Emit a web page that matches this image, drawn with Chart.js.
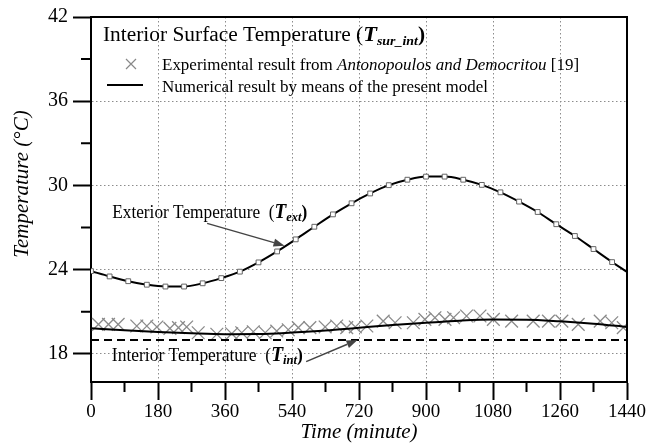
<!DOCTYPE html>
<html><head><meta charset="utf-8">
<style>html,body{margin:0;padding:0;background:#fff;}canvas{display:block;}</style>
<script src="https://cdn.jsdelivr.net/npm/chart.js@4.4.1/dist/chart.umd.min.js"></script>
</head><body>
<canvas id="c" width="649" height="447"></canvas>
<script>
// ---- data (minutes, °C) ----
const extTimes = [0,50,100,150,200,250,300,350,400,450,500,550,600,650,700,750,800,850,900,950,1000,1050,1100,1150,1200,1250,1300,1350,1400,1440];
const extValues = [23.9,23.52,23.18,22.93,22.8,22.8,23.03,23.4,23.86,24.52,25.3,26.16,27.06,27.94,28.73,29.43,30.02,30.41,30.63,30.63,30.41,30.04,29.51,28.85,28.11,27.24,26.4,25.47,24.54,23.84];
const surfNumTimes = [0,90,180,270,360,450,540,630,720,810,900,990,1080,1170,1260,1350,1440];
const surfNumValues = [19.82,19.68,19.56,19.47,19.41,19.42,19.52,19.66,19.86,20.06,20.22,20.37,20.45,20.44,20.32,20.15,19.92];
const surfExpTimes = [20,47,73,123,150,177,212,235,257,288,338,378,405,436,468,499,530,557,588,629,660,687,710,741,785,817,866,897,924,951,974,1009,1045,1081,1130,1188,1229,1265,1309,1368,1399,1430];
const surfExpValues = [20.11,20.11,20.11,19.99,19.99,19.92,19.82,19.87,19.92,19.51,19.40,19.44,19.51,19.58,19.51,19.63,19.72,19.87,19.87,19.92,19.99,19.87,19.92,19.99,20.34,20.22,20.22,20.46,20.58,20.46,20.58,20.70,20.70,20.46,20.34,20.34,20.34,20.34,20.11,20.34,20.22,19.87];
const intTimes = [0,1440];
const intValues = [19,19];
const xMajorTicks = [0,180,360,540,720,900,1080,1260,1440];
const xMinorTicks = [90,270,450,630,810,990,1170,1350];
const yMajorTicks = [18,24,30,36,42];
const yMinorTicks = [21,27,33,39];

const serif = "'Liberation Serif', 'Times New Roman', serif";
const pts = (ts, vs) => ts.map((t, i) => ({x: t, y: vs[i]}));

function measure(ctx, segs) {
  let total = 0;
  ctx.save();
  segs.forEach(s => { ctx.font = s.font; s.w = ctx.measureText(s.t).width; total += s.w; });
  ctx.restore();
  return total;
}
function drawRich(ctx, segs, x, y, sx) {
  measure(ctx, segs);
  ctx.save();
  ctx.translate(x, y);
  ctx.scale(sx || 1, 1);
  ctx.textBaseline = 'alphabetic';
  ctx.textAlign = 'left';
  ctx.fillStyle = '#000';
  let cx = 0;
  segs.forEach(s => { ctx.font = s.font; ctx.fillText(s.t, cx, s.dy || 0); cx += s.w; });
  ctx.restore();
}
function arrow(ctx, x1, y1, x2, y2) {
  const a = Math.atan2(y2 - y1, x2 - x1), L = 11, W = 4;
  ctx.save();
  ctx.strokeStyle = '#444'; ctx.fillStyle = '#444'; ctx.lineWidth = 1.5;
  ctx.beginPath(); ctx.moveTo(x1, y1);
  ctx.lineTo(x2 - L * Math.cos(a), y2 - L * Math.sin(a)); ctx.stroke();
  ctx.beginPath(); ctx.moveTo(x2, y2);
  ctx.lineTo(x2 - L * Math.cos(a) + W * Math.sin(a), y2 - L * Math.sin(a) - W * Math.cos(a));
  ctx.lineTo(x2 - L * Math.cos(a) - W * Math.sin(a), y2 - L * Math.sin(a) + W * Math.cos(a));
  ctx.closePath(); ctx.fill();
  ctx.restore();
}

const bgPlugin = {
  id: 'bg',
  beforeDraw(chart) {
    const c = chart.ctx; c.save(); c.fillStyle = '#fff'; c.fillRect(0, 0, chart.width, chart.height); c.restore();
  }
};

const decoPlugin = {
  id: 'deco',
  afterDraw(chart) {
    const c = chart.ctx, a = chart.chartArea, xs = chart.scales.x, ys = chart.scales.y;
    c.save();
    c.strokeStyle = '#000'; c.lineWidth = 2;
    c.beginPath();
    c.moveTo(a.left - 1, a.top); c.lineTo(a.right, a.top); c.lineTo(a.right, a.bottom);
    c.stroke();
    c.beginPath();
    xMinorTicks.forEach(v => { const p = xs.getPixelForValue(v); c.moveTo(p, a.bottom); c.lineTo(p, a.bottom + 10); });
    yMinorTicks.forEach(v => { const p = ys.getPixelForValue(v); c.moveTo(a.left - 10, p); c.lineTo(a.left, p); });
    c.stroke();

    // legend
    const L = a.left;
    const t1 = [
      {t: 'Interior Surface Temperature (', font: `20px ${serif}`},
      {t: 'T', font: `bold italic 21px ${serif}`},
      {t: 'sur_int', font: `bold italic 13px ${serif}`, dy: 4},
      {t: ')', font: `bold 20px ${serif}`}
    ];
    drawRich(c, t1, L + 12, a.top + 24, 322 / measure(c, t1));
    c.strokeStyle = '#888'; c.lineWidth = 1.2;
    const cx0 = L + 40, cy0 = a.top + 47;
    c.beginPath(); c.moveTo(cx0 - 5, cy0 - 5); c.lineTo(cx0 + 5, cy0 + 5); c.moveTo(cx0 - 5, cy0 + 5); c.lineTo(cx0 + 5, cy0 - 5); c.stroke();
    const t3 = [{t: 'Numerical result by means of the present model', font: `17px ${serif}`}];
    const s3 = 326 / measure(c, t3);
    const t2 = [
      {t: 'Experimental result from ', font: `17px ${serif}`},
      {t: 'Antonopoulos and Democritou', font: `italic 17px ${serif}`},
      {t: ' [19]', font: `17px ${serif}`}
    ];
    drawRich(c, t2, L + 71, a.top + 53, s3);
    c.strokeStyle = '#000'; c.lineWidth = 2;
    c.beginPath(); c.moveTo(L + 16, a.top + 68); c.lineTo(L + 52, a.top + 68); c.stroke();
    drawRich(c, t3, L + 71, a.top + 75, s3);

    // annotations (anchored in data units)
    const te = [
      {t: 'Exterior Temperature  (', font: `18px ${serif}`},
      {t: 'T', font: `bold italic 20px ${serif}`},
      {t: 'ext', font: `bold italic 13px ${serif}`, dy: 3},
      {t: ')', font: `bold 18px ${serif}`}
    ];
    drawRich(c, te, xs.getPixelForValue(57), ys.getPixelForValue(27.66), 195 / measure(c, te));
    arrow(c, xs.getPixelForValue(312), ys.getPixelForValue(27.3), xs.getPixelForValue(520), ys.getPixelForValue(25.71));
    const ti = [
      {t: 'Interior Temperature  (', font: `18px ${serif}`},
      {t: 'T', font: `bold italic 20px ${serif}`},
      {t: 'int', font: `bold italic 13px ${serif}`, dy: 3},
      {t: ')', font: `bold 18px ${serif}`}
    ];
    drawRich(c, ti, xs.getPixelForValue(56), ys.getPixelForValue(17.5), 191 / measure(c, ti));
    arrow(c, xs.getPixelForValue(578), ys.getPixelForValue(17.45), xs.getPixelForValue(716), ys.getPixelForValue(18.99));

    // axis titles
    c.fillStyle = '#000';
    c.font = `italic 21px ${serif}`;
    c.textAlign = 'center'; c.textBaseline = 'alphabetic';
    c.fillText('Time (minute)', (a.left + a.right) / 2, 438);
    c.translate(28, 184); c.rotate(-Math.PI / 2);
    c.fillText('Temperature (°C)', 0, 0);
    c.restore();
  }
};

const gridOpts = {color: '#8c8c8c', lineWidth: 1, tickLength: 18, tickColor: '#000', tickWidth: 2};
const borderOpts = {display: true, color: '#000', width: 2, dash: [1.5, 2.5]};

new Chart(document.getElementById('c'), {
  type: 'line',
  data: {
    datasets: [
      {label: 'T_ext', data: pts(extTimes, extValues), borderColor: '#000', borderWidth: 2,
       cubicInterpolationMode: 'monotone', pointStyle: 'rect',
       pointRadius: ctx => ctx.dataIndex === extTimes.length - 1 ? 0 : 3.4,
       pointBackgroundColor: '#fff', pointBorderColor: '#666', pointBorderWidth: 1, order: 1},
      {label: 'T_sur_int numerical', data: pts(surfNumTimes, surfNumValues), borderColor: '#000', borderWidth: 2,
       cubicInterpolationMode: 'monotone', pointRadius: 0, order: 2},
      {label: 'T_int', data: pts(intTimes, intValues), borderColor: '#000', borderWidth: 2,
       borderDash: [8, 5], pointRadius: 0, order: 3},
      {label: 'T_sur_int experimental', data: pts(surfExpTimes, surfExpValues), showLine: false,
       pointStyle: 'crossRot', pointRadius: 9, borderColor: '#8a8a8a', pointBorderWidth: 1.3, order: 5}
    ]
  },
  options: {
    responsive: false, animation: false, devicePixelRatio: 1,
    layout: {padding: {top: 15, right: 22, left: 0, bottom: 0}},
    plugins: {legend: {display: false}, tooltip: {enabled: false}},
    scales: {
      x: {type: 'linear', min: 0, max: 1440,
          afterBuildTicks: s => { s.ticks = xMajorTicks.map(v => ({value: v})); },
          afterFit: s => { s.height = 65; },
          ticks: {font: {size: 19, family: serif}, color: '#000', padding: 1, maxRotation: 0, autoSkip: false,
                  callback: v => String(v)},
          grid: gridOpts, border: borderOpts},
      y: {type: 'linear', min: 16, max: 42,
          afterBuildTicks: s => { s.ticks = yMajorTicks.map(v => ({value: v})); },
          afterFit: s => { s.width = 91; },
          ticks: {font: {size: 20, family: serif}, color: '#000', padding: 5, callback: v => String(v)},
          grid: gridOpts, border: borderOpts}
    }
  },
  plugins: [bgPlugin, decoPlugin]
});
</script>
</body></html>
